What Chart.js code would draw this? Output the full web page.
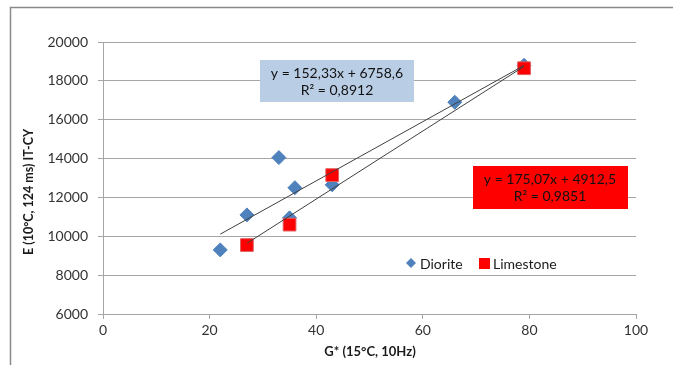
<!DOCTYPE html>
<html>
<head>
<meta charset="utf-8">
<script src="https://cdn.jsdelivr.net/npm/chart.js@4.4.1/dist/chart.umd.min.js"></script>
<style>
  body { margin: 0; background: #fff; }
</style>
</head>
<body>
<canvas id="grafico_g" width="673" height="365"></canvas>
<script>
// valores
const dioriteG = [22, 27, 33, 35, 36, 43, 66, 79];
const dioriteE = [9300, 11100, 14050, 10950, 12500, 12650, 16900, 18800];
const limestoneG = [27, 35, 43, 79];
const limestoneE = [9550, 10600, 13150, 18650];

// linhas de tendencia (extremos)
const trendDioriteG = [22, 79];
const trendDioriteE = [10110, 18793];
const trendLimestoneG = [27, 79];
const trendLimestoneE = [9639, 18743];

const xTicks = [0, 20, 40, 60, 80, 100];
const yTicks = [6000, 8000, 10000, 12000, 14000, 16000, 18000, 20000];

const eqDiorite = ['y = 152,33x + 6758,6', 'R\u00b2 = 0,8912'];
const eqLimestone = ['y = 175,07x + 4912,5', 'R\u00b2 = 0,9851'];
const legendNames = ['Diorite', 'Limestone'];

function pontos(xs, ys){
  return xs.map(function(v, i){ return { x: v, y: ys[i] }; });
}

const fonte = 'Lato';

function caixa(ctx, cx, cy, w, h, cor, linhas){
  cx = Math.round(cx);
  cy = Math.round(cy);
  ctx.fillStyle = cor;
  ctx.fillRect(Math.round(cx - w / 2), Math.round(cy - h / 2), w, h);
  ctx.fillStyle = '#111';
  ctx.font = '14px ' + fonte;
  ctx.textAlign = 'center';
  ctx.textBaseline = 'middle';
  ctx.fillText(linhas[0], cx, cy - 8);
  ctx.fillText(linhas[1], cx, cy + 9);
}

const extras = {
  id: 'extras',
  afterDraw(chart){
    const ctx = chart.ctx;
    const sx = chart.scales.x;
    const sy = chart.scales.y;
    ctx.save();

    // moldura
    ctx.strokeStyle = '#8a8a8a';
    ctx.lineWidth = 1.5;
    ctx.beginPath();
    ctx.moveTo(10.5, 365);
    ctx.lineTo(10.5, 7.5);
    ctx.lineTo(673, 7.5);
    ctx.stroke();

    // equacoes
    caixa(ctx, sx.getPixelForValue(43.9), sy.getPixelForValue(17990), 154, 42, '#b9cde5', eqDiorite);
    caixa(ctx, sx.getPixelForValue(83.8), sy.getPixelForValue(12560), 155, 43, '#ff0000', eqLimestone);

    // titulos dos eixos
    ctx.fillStyle = '#1a1a1a';
    ctx.font = 'bold 13px ' + fonte;
    ctx.textAlign = 'center';
    ctx.textBaseline = 'middle';
    ctx.fillText('G* (15\u00b0C, 10Hz)', Math.round((sx.left + sx.right) / 2), 352);
    ctx.save();
    ctx.translate(29, 192);
    ctx.rotate(-Math.PI / 2);
    ctx.font = 'bold 12.5px ' + fonte;
    ctx.fillText('E (10\u00b0C, 124 ms) IT-CY', 0, 0);
    ctx.restore();

    // legenda
    const ly = 263;
    ctx.fillStyle = '#4f81bd';
    ctx.beginPath();
    ctx.moveTo(411, ly - 5);
    ctx.lineTo(416, ly);
    ctx.lineTo(411, ly + 5);
    ctx.lineTo(406, ly);
    ctx.closePath();
    ctx.fill();
    ctx.fillStyle = '#ff0000';
    ctx.fillRect(479, ly - 5, 11, 11);
    ctx.fillStyle = '#1a1a1a';
    ctx.font = '14px ' + fonte;
    ctx.textAlign = 'left';
    ctx.fillText(legendNames[0], 420, ly + 1);
    ctx.fillText(legendNames[1], 493, ly + 1);

    ctx.restore();
  }
};

const grafico = document.getElementById('grafico_g');

new Chart(grafico, {
  type: 'scatter',
  data: {
    datasets: [
      {
        type: 'line',
        label: 'trend diorite',
        data: pontos(trendDioriteG, trendDioriteE),
        borderColor: '#404040',
        borderWidth: 1,
        pointRadius: 0
      },
      {
        type: 'line',
        label: 'trend limestone',
        data: pontos(trendLimestoneG, trendLimestoneE),
        borderColor: '#404040',
        borderWidth: 1,
        pointRadius: 0
      },
      {
        label: legendNames[1],
        data: pontos(limestoneG, limestoneE),
        pointStyle: 'rect',
        pointRadius: 9,
        backgroundColor: '#ff0000',
        borderColor: '#e06060',
        borderWidth: 1
      },
      {
        label: legendNames[0],
        data: pontos(dioriteG, dioriteE),
        pointStyle: 'rectRot',
        pointRadius: 7,
        backgroundColor: '#4f81bd',
        borderColor: '#4f81bd',
        borderWidth: 1
      }
    ]
  },
  options: {
    responsive: false,
    animation: false,
    devicePixelRatio: 1,
    layout: { padding: { left: 0, top: 42, right: 37, bottom: 0 } },
    plugins: {
      legend: { display: false },
      tooltip: { enabled: false }
    },
    scales: {
      x: {
        type: 'linear',
        min: 0,
        max: 100,
        afterBuildTicks: function(s){ s.ticks = xTicks.map(function(v){ return { value: v }; }); },
        afterFit: function(s){ s.height = 51; },
        grid: { drawOnChartArea: false, color: '#a6a6a6', tickLength: 5 },
        border: { color: '#a6a6a6' },
        ticks: {
          color: '#333', padding: 3, font: { family: fonte, size: 14 },
          callback: function(v){ return String(v); }
        }
      },
      y: {
        type: 'linear',
        min: 6000,
        max: 20000,
        afterBuildTicks: function(s){ s.ticks = yTicks.map(function(v){ return { value: v }; }); },
        afterFit: function(s){ s.width = 103; },
        grid: { color: '#a6a6a6', tickLength: 5 },
        border: { color: '#a6a6a6' },
        ticks: {
          color: '#333', padding: 10, font: { family: fonte, size: 14 },
          callback: function(v){ return String(v); }
        }
      }
    }
  },
  plugins: [extras]
});
</script>
</body>
</html>
